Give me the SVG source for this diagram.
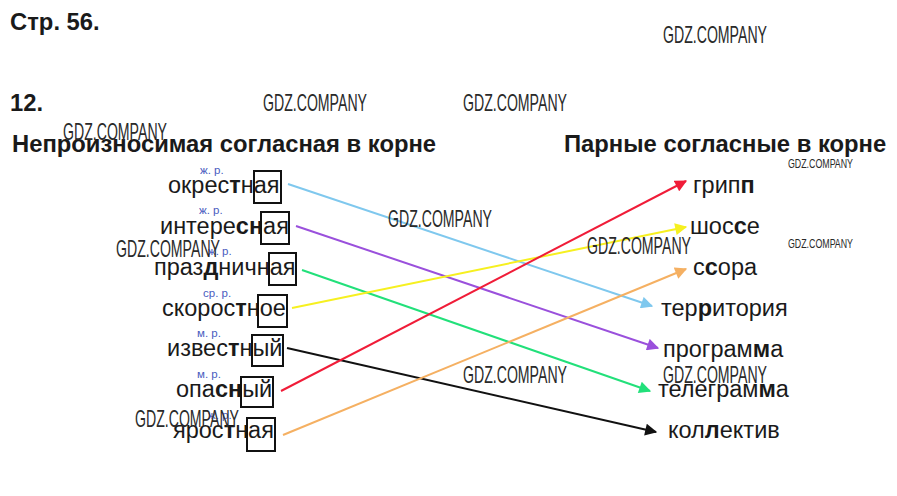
<svg xmlns="http://www.w3.org/2000/svg" width="897" height="496" viewBox="0 0 897 496">
<style>
.h{font-family:"Liberation Sans",Arial,sans-serif;font-weight:bold;font-size:23.8px;fill:#1a1a1a}
.w{font-family:"Liberation Sans",Arial,sans-serif;font-size:23.5px;fill:#1a1a1a}
.w tspan.b{font-weight:bold}
.g{font-family:"Liberation Sans",Arial,sans-serif;font-size:11.5px;fill:#4a5cc0}
.box{fill:none;stroke:#111;stroke-width:2}
.wm{font-family:"Liberation Sans Narrow","Liberation Sans",sans-serif;font-size:24px;fill:#2a2a2a}
.wms{font-family:"Liberation Sans Narrow","Liberation Sans",sans-serif;font-size:13px;fill:#2a2a2a}
.c{fill:none;stroke-width:2}
</style>
<defs>
<marker id="mBlue" viewBox="0 0 10 10" refX="9" refY="5" markerWidth="13" markerHeight="12" orient="auto" markerUnits="userSpaceOnUse"><path d="M0,0L10,5L0,10z" fill="#7fc8ee"/></marker>
<marker id="mPurple" viewBox="0 0 10 10" refX="9" refY="5" markerWidth="13" markerHeight="12" orient="auto" markerUnits="userSpaceOnUse"><path d="M0,0L10,5L0,10z" fill="#9a50dc"/></marker>
<marker id="mGreen" viewBox="0 0 10 10" refX="9" refY="5" markerWidth="13" markerHeight="12" orient="auto" markerUnits="userSpaceOnUse"><path d="M0,0L10,5L0,10z" fill="#22e07a"/></marker>
<marker id="mYellow" viewBox="0 0 10 10" refX="9" refY="5" markerWidth="13" markerHeight="12" orient="auto" markerUnits="userSpaceOnUse"><path d="M0,0L10,5L0,10z" fill="#f6f020"/></marker>
<marker id="mBlack" viewBox="0 0 10 10" refX="9" refY="5" markerWidth="13" markerHeight="12" orient="auto" markerUnits="userSpaceOnUse"><path d="M0,0L10,5L0,10z" fill="#111"/></marker>
<marker id="mRed" viewBox="0 0 10 10" refX="9" refY="5" markerWidth="13" markerHeight="12" orient="auto" markerUnits="userSpaceOnUse"><path d="M0,0L10,5L0,10z" fill="#f01c38"/></marker>
<marker id="mOrange" viewBox="0 0 10 10" refX="9" refY="5" markerWidth="13" markerHeight="12" orient="auto" markerUnits="userSpaceOnUse"><path d="M0,0L10,5L0,10z" fill="#f5b062"/></marker>
</defs>

<g id="headings">
<text class="h" x="10" y="30">Стр. 56.</text>
<text class="h" x="10" y="111">12.</text>
<text class="h" x="12" y="152">Непроизносимая согласная в корне</text>
<text class="h" x="564" y="152">Парные согласные в корне</text>
</g>

<g id="connectors">
<line class="c" x1="288" y1="184" x2="652" y2="306" stroke="#7fc8ee" marker-end="url(#mBlue)"/>
<line class="c" x1="296" y1="226" x2="658" y2="348" stroke="#9a50dc" marker-end="url(#mPurple)"/>
<line class="c" x1="302" y1="270" x2="650" y2="391" stroke="#22e07a" marker-end="url(#mGreen)"/>
<line class="c" x1="292" y1="308" x2="686" y2="227" stroke="#f6f020" marker-end="url(#mYellow)"/>
<line class="c" x1="287" y1="348" x2="656" y2="432" stroke="#111" marker-end="url(#mBlack)"/>
<line class="c" x1="281" y1="391" x2="686" y2="181" stroke="#f01c38" marker-end="url(#mRed)"/>
<line class="c" x1="283" y1="435" x2="686" y2="269" stroke="#f5b062" marker-end="url(#mOrange)"/>
</g>

<g id="left-okrestnaya">
<text class="g" x="200" y="174">ж. р.</text>
<text class="w" x="168" y="193">окрес<tspan class="b">т</tspan>ная</text>
<rect class="box" x="254" y="171" width="27" height="32"/>
</g>
<g id="left-interesnaya">
<text class="g" x="199" y="214">ж. р.</text>
<text class="w" x="160" y="234">интере<tspan class="b">сн</tspan>ая</text>
<rect class="box" x="261" y="212" width="28" height="32"/>
</g>
<g id="left-prazdnichnaya">
<text class="g" x="208" y="255">ж. р.</text>
<text class="w" x="154" y="275">праз<tspan class="b">д</tspan>ничная</text>
<rect class="box" x="269" y="253" width="27" height="32"/>
</g>
<g id="left-skorostnoe">
<text class="g" x="203" y="297">ср. р.</text>
<text class="w" x="162" y="316">скорос<tspan class="b">т</tspan>ное</text>
<rect class="box" x="258" y="295" width="29" height="32"/>
</g>
<g id="left-izvestny">
<text class="g" x="197" y="337">м. р.</text>
<text class="w" x="167" y="356">извес<tspan class="b">т</tspan>ный</text>
<rect class="box" x="252" y="335" width="31" height="31"/>
</g>
<g id="left-opasny">
<text class="g" x="197" y="378">м. р.</text>
<text class="w" x="176" y="397">опа<tspan class="b">сн</tspan>ый</text>
<rect class="box" x="241" y="377" width="32" height="30"/>
</g>
<g id="left-yarostnaya">
<text class="g" x="208" y="419">ж. р.</text>
<text class="w" x="173" y="438">ярос<tspan class="b">т</tspan>ная</text>
<rect class="box" x="247" y="418" width="28" height="33"/>
</g>

<g id="right-gripp"><text class="w" x="693" y="193">грип<tspan class="b">п</tspan></text></g>
<g id="right-shosse"><text class="w" x="690" y="234">шос<tspan class="b">с</tspan>е</text></g>
<g id="right-ssora"><text class="w" x="693" y="275">с<tspan class="b">с</tspan>ора</text></g>
<g id="right-territoriya"><text class="w" x="661" y="316">тер<tspan class="b">р</tspan>итория</text></g>
<g id="right-programma"><text class="w" x="663" y="357">програм<tspan class="b">м</tspan>а</text></g>
<g id="right-telegramma"><text class="w" x="658" y="397">телеграм<tspan class="b">м</tspan>а</text></g>
<g id="right-kollektiv"><text class="w" x="668" y="438">кол<tspan class="b">л</tspan>ектив</text></g>

<g id="watermarks">
<text class="wm" x="663" y="43" textLength="104" lengthAdjust="spacingAndGlyphs">GDZ.COMPANY</text>
<text class="wm" x="263" y="111" textLength="104" lengthAdjust="spacingAndGlyphs">GDZ.COMPANY</text>
<text class="wm" x="463" y="111" textLength="104" lengthAdjust="spacingAndGlyphs">GDZ.COMPANY</text>
<text class="wm" x="63" y="140" textLength="104" lengthAdjust="spacingAndGlyphs">GDZ.COMPANY</text>
<text class="wms" x="788" y="168" textLength="65" lengthAdjust="spacingAndGlyphs">GDZ.COMPANY</text>
<text class="wm" x="388" y="227" textLength="104" lengthAdjust="spacingAndGlyphs">GDZ.COMPANY</text>
<text class="wm" x="587" y="254" textLength="104" lengthAdjust="spacingAndGlyphs">GDZ.COMPANY</text>
<text class="wms" x="788" y="248" textLength="65" lengthAdjust="spacingAndGlyphs">GDZ.COMPANY</text>
<text class="wm" x="116" y="257" textLength="104" lengthAdjust="spacingAndGlyphs">GDZ.COMPANY</text>
<text class="wm" x="463" y="383" textLength="104" lengthAdjust="spacingAndGlyphs">GDZ.COMPANY</text>
<text class="wm" x="663" y="383" textLength="104" lengthAdjust="spacingAndGlyphs">GDZ.COMPANY</text>
<text class="wm" x="135" y="427" textLength="104" lengthAdjust="spacingAndGlyphs">GDZ.COMPANY</text>
</g>
</svg>
